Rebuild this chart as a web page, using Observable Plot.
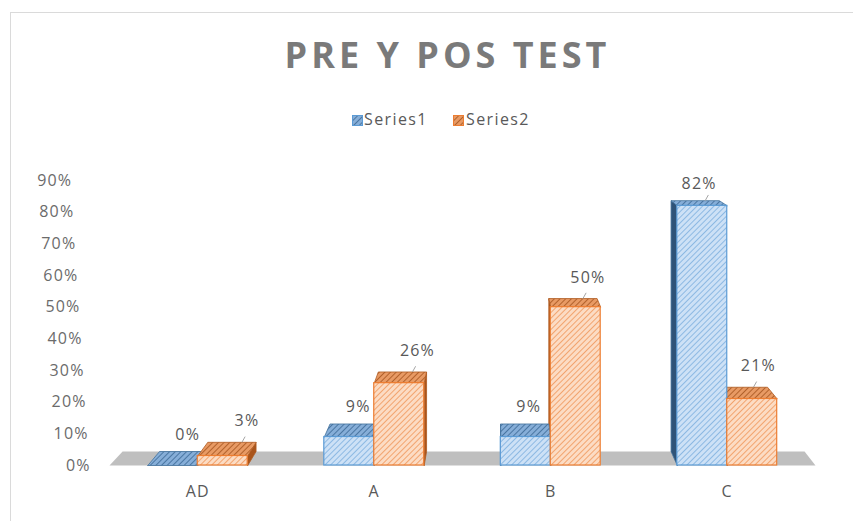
<!DOCTYPE html>
<html>
<head>
<meta charset="utf-8">
<script src="https://cdn.jsdelivr.net/npm/d3@7"></script>
<script src="https://cdn.jsdelivr.net/npm/@observablehq/plot@0.6"></script>
<style>
  body { margin: 0; background: #fff; }
  #wrap { position: relative; width: 853px; height: 521px; overflow: hidden; background: #fff; font-family: "Open Sans", sans-serif; }
  #border { position: absolute; left: 10px; top: 12px; width: 1000px; height: 700px; border-top: 1.5px solid #dadada; border-left: 1.5px solid #dadada; }
  #title { position: absolute; left: 0; top: 37px; width: 895px; text-align: center; font-size: 36px; line-height: 35px; font-weight: 700; letter-spacing: 4px; color: #7a7a7a; }
  .leg { position: absolute; top: 111px; font-size: 16px; line-height: 16px; color: #595959; letter-spacing: 1.4px; white-space: nowrap; }
  .ico { position: absolute; top: 115px; width: 11px; height: 11px; }
  #chart { position: absolute; left: 0; top: 150px; }
</style>
</head>
<body>
<div id="wrap">
  <div id="border"></div>
  <div id="title">PRE Y POS TEST</div>
  <svg class="ico" style="left:352px" viewBox="0 0 11 11"><rect x="0.5" y="0.5" width="10" height="10" fill="url(#hbt)" stroke="#5b9bd5"/></svg>
  <div class="leg" id="leg1" style="left:364px"></div>
  <svg class="ico" style="left:453px" viewBox="0 0 11 11"><rect x="0.5" y="0.5" width="10" height="10" fill="url(#hot)" stroke="#ed7d31"/></svg>
  <div class="leg" id="leg2" style="left:466px"></div>
  <div id="chart"></div>
</div>
<script>
// ---- data ----
const categories = ["AD", "A", "B", "C"];
const seriesNames = ["Series1", "Series2"];
const series1 = [0.00, 0.09, 0.09, 0.82];
const series2 = [0.03, 0.26, 0.50, 0.21];
const yTicks = [0, 0.1, 0.2, 0.3, 0.4, 0.5, 0.6, 0.7, 0.8, 0.9];

// ---- 3D projection settings (data units) ----
const BAR = 0.283;                 // bar width as a fraction of a category step
const VP = {x: 1.677, y: 1.30};    // vanishing point
const DEPTH = 0.034;               // depth of the bars/floor toward the vanishing point
const back = (x, y) => ({x: x + (VP.x - x) * DEPTH, y: y + (VP.y - y) * DEPTH});

const fmt = d3.format(".0%");
document.getElementById("leg1").textContent = seriesNames[0];
document.getElementById("leg2").textContent = seriesNames[1];

const bars = [];
[series1, series2].forEach((vals, s) => {
  vals.forEach((v, i) => {
    const x0 = s === 0 ? i - BAR : i;
    bars.push({s, i, v, x0, x1: x0 + BAR});
  });
});

function poly(id, s, pts) {
  const all = [...pts, pts[0]];
  return all.map(p => ({id, s, x: p.x, y: p.y}));
}

const tops = [], sides = [];
bars.forEach((b, k) => {
  const bl = back(b.x0, b.v), br = back(b.x1, b.v);
  tops.push(...poly("t" + k, b.s, [{x: b.x0, y: b.v}, {x: b.x1, y: b.v}, br, bl]));
  if (b.x0 > VP.x) sides.push(...poly("l" + k, b.s, [{x: b.x0, y: 0}, {x: b.x0, y: b.v}, bl, back(b.x0, 0)]));
  if (b.x1 < VP.x) sides.push(...poly("r" + k, b.s, [{x: b.x1, y: 0}, {x: b.x1, y: b.v}, br, back(b.x1, 0)]));
  const c = back((b.x0 + b.x1) / 2, b.v);
  b.tx = c.x; b.ty = c.y;
});

const floor = poly("floor", -1, [{x: -0.5, y: 0}, {x: 3.5, y: 0}, back(3.5, 0), back(-0.5, 0)]);

const col = {
  front: ["url(#hb)", "url(#ho)"],
  top: ["url(#hbt)", "url(#hot)"],
  side: ["#2f5378", "#a9541b"],
  stroke: ["#5b9bd5", "#ed7d31"],
  dstroke: ["#41719c", "#ae5a21"]
};

const marks = [
  Plot.line(floor, {x: "x", y: "y", z: "id", fill: "#bfbfbf", stroke: "none"})
];
[0, 1].forEach(s => {
  marks.push(Plot.line(sides.filter(d => d.s === s), {x: "x", y: "y", z: "id", fill: col.side[s], stroke: col.dstroke[s], strokeWidth: 0.8}));
});
[0, 1].forEach(s => {
  marks.push(Plot.line(tops.filter(d => d.s === s), {x: "x", y: "y", z: "id", fill: col.top[s], stroke: col.dstroke[s], strokeWidth: 0.8}));
});
[0, 1].forEach(s => {
  marks.push(Plot.rect(bars.filter(d => d.s === s), {x1: "x0", x2: "x1", y1: 0, y2: "v", fill: col.front[s], stroke: col.stroke[s], strokeWidth: 1.2}));
});
// data labels
marks.push(Plot.text(bars.filter(d => d.s === 0), {x: "tx", y: "ty", text: d => fmt(d.v), dx: 4, dy: -17, fill: "#595959", lineAnchor: "middle"}));
marks.push(Plot.text(bars.filter(d => d.s === 1), {x: "tx", y: "ty", text: d => fmt(d.v), dx: 15, dy: -21, fill: "#595959", lineAnchor: "middle"}));
// small leader lines for labels lifted off their bars
marks.push(Plot.link(bars.filter(d => d.s === 1 || d.v > 0.5), {x1: "tx", y1: "ty", x2: d => d.tx + 0.018, y2: d => d.ty + 0.018, dx: 10, stroke: "#a6a6a6", strokeWidth: 1}));
// y tick labels (slanted back wall)
marks.push(Plot.text(yTicks, {x: d => -0.606 - 0.1165 * d, y: d => d, text: d => fmt(d), textAnchor: "end", lineAnchor: "middle", fill: "#6b6b6b"}));
// category labels
marks.push(Plot.text(categories, {x: (d, i) => i, y: 0, text: d => d, dy: 26, lineAnchor: "middle", fill: "#595959"}));

const svg = Plot.plot({
  width: 853,
  height: 360,
  marginLeft: 109,
  marginRight: 38,
  marginTop: 30,
  marginBottom: 45,
  x: {domain: [-0.5, 3.5], axis: null},
  y: {domain: [0, 0.9], axis: null},
  style: {fontFamily: "'Open Sans', sans-serif", fontSize: "16px", letterSpacing: "1.2px", background: "transparent", overflow: "visible"},
  marks
});

const defs = d3.select(svg).insert("defs", ":first-child");
function hatch(id, bg, fg, size, w) {
  const p = defs.append("pattern").attr("id", id).attr("width", size).attr("height", size)
    .attr("patternUnits", "userSpaceOnUse").attr("patternTransform", "rotate(45)");
  p.append("rect").attr("width", size).attr("height", size).attr("fill", bg);
  p.append("line").attr("x1", 0).attr("y1", 0).attr("x2", 0).attr("y2", size).attr("stroke", fg).attr("stroke-width", w);
}
hatch("hb", "#cde1f6", "#6aa3da", 4, 1.3);
hatch("ho", "#fcdcc4", "#ee8640", 4, 1.3);
hatch("hbt", "#86aed8", "#3a6894", 4, 1.6);
hatch("hot", "#e89a64", "#a5531d", 4, 1.6);

document.getElementById("chart").appendChild(svg);
</script>
</body>
</html>
